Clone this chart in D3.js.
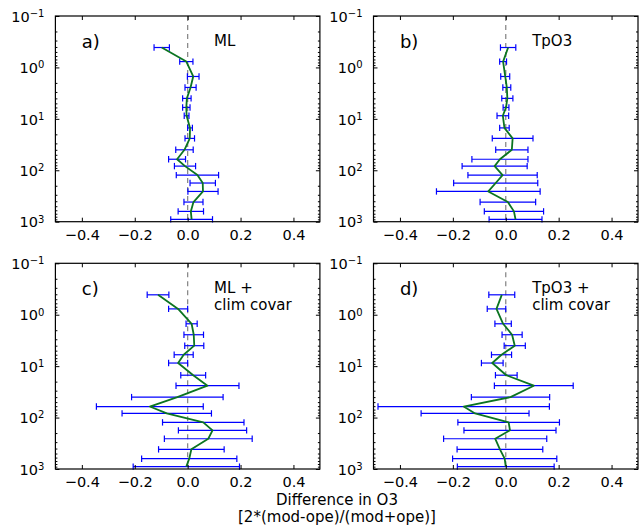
<!DOCTYPE html>
<html>
<head>
<meta charset="utf-8">
<script src="https://cdn.jsdelivr.net/npm/d3@7"></script>
<style>
  body { margin: 0; background: #fff; }
  svg { font-family: "DejaVu Sans", sans-serif; }
</style>
</head>
<body>
<div id="chart"></div>
<script>
// pressure levels (y axis, log, reversed)
const levels = [0.41, 0.77, 1.5, 2.45, 4.0, 6.0, 8.7, 15, 24, 40, 61, 83, 124, 177, 258, 415, 630, 900];

// a) ML
const meanA = [-0.098, -0.005, 0.021, 0.011, -0.003, -0.005, -0.004, 0.009, 0.008, -0.012, -0.040, -0.010, 0.037, 0.057, 0.058, 0.022, 0.012, 0.015];
const errA  = [0.029, 0.025, 0.022, 0.021, 0.016, 0.014, 0.009, 0.009, 0.018, 0.033, 0.032, 0.040, 0.080, 0.048, 0.057, 0.036, 0.048, 0.079];
// b) TpO3
const meanB = [0.009, -0.010, -0.002, 0.004, 0.006, 0.001, -0.011, -0.005, 0.026, 0.023, -0.022, -0.042, -0.012, -0.038, -0.066, 0.008, 0.031, 0.037];
const errB  = [0.029, 0.013, 0.017, 0.015, 0.021, 0.011, 0.022, 0.018, 0.077, 0.061, 0.106, 0.123, 0.131, 0.159, 0.196, 0.105, 0.112, 0.100];
// c) ML + clim covar
const meanC = [-0.112, -0.036, 0.015, 0.023, 0.025, -0.015, -0.036, 0.021, 0.075, -0.039, -0.143, -0.079, 0.059, 0.094, 0.078, 0.014, 0.006, -0.005];
const errC  = [0.041, 0.036, 0.021, 0.037, 0.036, 0.036, 0.036, 0.047, 0.119, 0.173, 0.202, 0.169, 0.154, 0.129, 0.166, 0.124, 0.180, 0.201];
// d) TpO3 + clim covar
const meanD = [-0.015, -0.035, -0.010, 0.024, 0.034, -0.016, -0.051, 0.002, 0.106, 0.018, -0.159, -0.116, 0.011, 0.016, -0.040, -0.022, -0.004, 0.000];
const errD  = [0.049, 0.035, 0.031, 0.038, 0.040, 0.038, 0.041, 0.041, 0.149, 0.148, 0.324, 0.204, 0.192, 0.174, 0.195, 0.162, 0.197, 0.183];

const panelLetters = ["a)", "b)", "c)", "d)"];
const panelNames = [["ML"], ["TpO3"], ["ML +", "clim covar"], ["TpO3 +", "clim covar"]];
const xTicks = [-0.4, -0.2, 0.0, 0.2, 0.4];
const yTicks = [0.1, 1, 10, 100, 1000];
const xLabel = ["Difference in O3", "[2*(mod-ope)/(mod+ope)]"];

const panels = [
  { mean: meanA, err: errA },
  { mean: meanB, err: errB },
  { mean: meanC, err: errC },
  { mean: meanD, err: errD }
];

const width = 641, height = 526;
const pw = 264.5, ph = 205.7;
const panelX = [55.4, 373.5];
const panelY = [16, 263.3];

const svg = d3.select("#chart").append("svg")
  .attr("width", width)
  .attr("height", height);

const x = d3.scaleLinear().domain([-0.5, 0.5]).range([0, pw]);
const y = d3.scaleLog().domain([0.1, 1000]).range([0, ph]);

// minor log ticks 2..9 in every decade
const minorTicks = [];
for (let e = -1; e < 3; e++) {
  for (let m = 2; m <= 9; m++) minorTicks.push(m * Math.pow(10, e));
}

const fmt = d3.format(".1f");

function styleAxis(sel) {
  sel.select(".domain").remove();
  sel.attr("font-family", "DejaVu Sans, sans-serif").attr("font-size", 14.5);
  sel.selectAll(".tick line").attr("stroke", "#000").attr("stroke-width", 1);
  sel.selectAll(".tick text").attr("fill", "#000");
}

panels.forEach((p, i) => {
  const g = svg.append("g")
    .attr("transform", `translate(${panelX[i % 2]},${panelY[Math.floor(i / 2)]})`);

  const data = levels.map((lev, j) => ({ lev: lev, m: p.mean[j], e: p.err[j] }));

  // zero reference line
  g.append("line")
    .attr("x1", x(0)).attr("x2", x(0))
    .attr("y1", 0).attr("y2", ph)
    .attr("stroke", "#8a8a8a")
    .attr("stroke-width", 1.3)
    .attr("stroke-dasharray", "5,4");

  // error bars
  const bars = g.selectAll("g.bar")
    .data(data)
    .enter()
    .append("g")
    .attr("class", "bar")
    .attr("stroke", "#0000ff")
    .attr("stroke-width", 1.2);

  bars.append("line")
    .attr("x1", d => x(d.m - d.e))
    .attr("x2", d => x(d.m + d.e))
    .attr("y1", d => y(d.lev))
    .attr("y2", d => y(d.lev));

  bars.append("line")
    .attr("x1", d => x(d.m - d.e))
    .attr("x2", d => x(d.m - d.e))
    .attr("y1", d => y(d.lev) - 3.2)
    .attr("y2", d => y(d.lev) + 3.2);

  bars.append("line")
    .attr("x1", d => x(d.m + d.e))
    .attr("x2", d => x(d.m + d.e))
    .attr("y1", d => y(d.lev) - 3.2)
    .attr("y2", d => y(d.lev) + 3.2);

  // mean profile
  g.append("path")
    .datum(data)
    .attr("d", d3.line().x(d => x(d.m)).y(d => y(d.lev)))
    .attr("fill", "none")
    .attr("stroke", "#0b7421")
    .attr("stroke-width", 1.8)
    .attr("stroke-linejoin", "round");

  // frame
  g.append("rect")
    .attr("x", 0).attr("y", 0)
    .attr("width", pw).attr("height", ph)
    .attr("fill", "none")
    .attr("stroke", "#000")
    .attr("stroke-width", 1.2);

  // x axes (ticks inward, top and bottom)
  g.append("g")
    .attr("transform", `translate(0,${ph})`)
    .call(d3.axisBottom(x).tickValues(xTicks).tickSize(-4).tickPadding(8).tickFormat(fmt))
    .call(styleAxis);

  g.append("g")
    .call(d3.axisTop(x).tickValues(xTicks).tickSize(-4).tickFormat(""))
    .call(styleAxis);

  // y axes, major with 10^n labels
  const yAxis = g.append("g")
    .call(d3.axisLeft(y).tickValues(yTicks).tickSize(-4).tickPadding(11).tickFormat(""))
    .call(styleAxis);

  yAxis.selectAll(".tick text").each(function(d) {
    const t = d3.select(this);
    const ex = Math.round(Math.log10(d));
    t.attr("dy", "0.36em");
    t.append("tspan").text("10");
    t.append("tspan")
      .attr("dy", "-0.48em")
      .attr("font-size", 10)
      .text(ex < 0 ? "\u2212" + (-ex) : String(ex));
  });

  g.append("g")
    .call(d3.axisLeft(y).tickValues(minorTicks).tickSize(-2).tickFormat(""))
    .call(styleAxis);

  g.append("g")
    .attr("transform", `translate(${pw},0)`)
    .call(d3.axisRight(y).tickValues(yTicks).tickSize(-4).tickFormat(""))
    .call(styleAxis);

  g.append("g")
    .attr("transform", `translate(${pw},0)`)
    .call(d3.axisRight(y).tickValues(minorTicks).tickSize(-2).tickFormat(""))
    .call(styleAxis);

  // panel letter
  g.append("text")
    .attr("x", x(-0.4))
    .attr("y", 31.5)
    .attr("font-size", 18)
    .text(panelLetters[i]);

  // experiment name
  panelNames[i].forEach((line, k) => {
    g.append("text")
      .attr("x", x(0.1))
      .attr("y", 30 + k * 17)
      .attr("font-size", 15)
      .text(line);
  });
});

// shared x label
xLabel.forEach((line, k) => {
  svg.append("text")
    .attr("x", 337)
    .attr("y", 505 + k * 16.5)
    .attr("text-anchor", "middle")
    .attr("font-size", 15)
    .text(line);
});
</script>
</body>
</html>
